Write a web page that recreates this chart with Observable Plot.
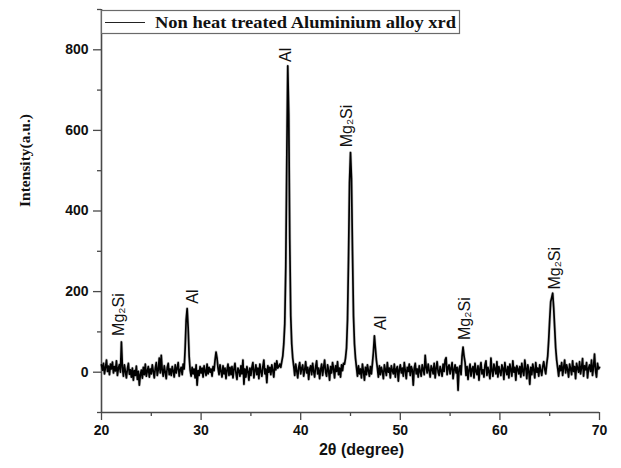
<!DOCTYPE html>
<html>
<head>
<meta charset="utf-8">
<script src="https://cdn.jsdelivr.net/npm/d3@7"></script>
<script src="https://cdn.jsdelivr.net/npm/@observablehq/plot@0.6"></script>
<style>
  html, body { margin: 0; padding: 0; background: #fff; }
  #chart svg { display: block; }
</style>
</head>
<body>
<div id="chart"></div>
<script>
// XRD scan: 2θ from 20° to 70° in 0.1° steps
const twoThetaStart = 20;
const twoThetaStep = 0.1;
const intensity = [
  18, 5, 22, -4, 12, 30, 2, 15, -6, 20,
  8, 25, -2, 14, 3, 28, -8, 10, 19, 0,
  75, 12, -10, 18, 2, -14, 8, 22, -5, 6,
  -12, 10, -20, 4, -8, 15, -18, 2, -32, -6,
  5, -15, 12, -6, 20, -10, 3, 14, -12, 8,
  -4, 18, 2, -14, 10, 24, -8, 6, 35, -2,
  42, 4, -10, 16, 0, -16, 12, 22, -6, 8,
  -8, 14, 3, -12, 18, -2, 10, 24, -10, 6,
  12, -6, 20, 8, 60, 130, 158, 110, 40, 5,
  -10, 12, -4, 8, -14, 18, -32, 4, -8, 14,
  -2, 10, -12, 16, 2, -8, 20, -4, 12, 0,
  8, -10, 14, 4, 30, 50, 35, 10, -6, 18,
  2, -12, 16, -4, 10, -16, 6, 20, -8, 12,
  -6, 14, -14, 8, 22, -2, -18, 10, 4, -10,
  16, -4, 30, -30, 8, -12, 14, 2, -20, 10,
  -8, 12, 24, -14, 4, 18, -6, 10, -16, 20,
  2, -10, 14, 30, -4, 8, -26, 16, 0, 12,
  -6, 18, 4, -12, 22, 6, 28, 10, 14, 20,
  12, 26, 40, 70, 120, 260, 520, 760, 640, 330,
  140, 70, 35, 15, -8, 20, 4, -14, 12, 24,
  -4, 10, 18, -10, 6, 26, -2, 12, -18, 8,
  16, -6, 22, 2, -12, 14, 28, -4, 10, -16,
  6, 20, -8, 12, 30, 0, -10, 18, 4, -20,
  14, -2, 24, 8, -14, 16, 2, 26, -6, 10,
  -12, 18, 4, 22, 20, 35, 60, 130, 280, 470,
  545, 480, 300, 140, 70, 35, 12, -10, 16, -4,
  8, -14, 20, 2, -20, 12, -6, 18, 4, -10,
  14, -4, 22, 50, 90, 60, 30, 10, -12, 16,
  -6, 12, 2, -16, 18, 6, -8, 24, 0, 10,
  -14, 16, 4, -4, 20, -12, 8, 14, -22, 6,
  18, -2, 10, -10, 24, 4, -16, 12, 2, 20,
  -8, 14, 6, -32, 10, 22, -4, 8, -12, 16,
  2, -10, 18, 6, -6, 42, 12, -2, 20, 4,
  -12, 16, 8, -4, 22, -14, 10, 26, 0, -8,
  14, 4, -10, 20, 2, 30, 36, -6, 12, 18,
  -4, 10, 24, -16, 6, 18, -2, 12, -45, 8,
  16, -6, 40, 62, 40, 25, -8, 14, -18, 6,
  20, -10, 8, 14, -14, 22, 2, -6, 16, -20,
  10, 24, -4, 6, -12, 18, 28, -8, 12, 0,
  -16, 35, 4, -10, 20, 8, -4, 26, -12, 14,
  2, -8, 18, 10, -18, 24, 4, -6, 14, -14,
  20, 6, -10, 28, 0, 12, -20, 16, 8, -4,
  14, -12, 22, 2, -8, 30, 10, -16, 18, 4,
  -30, 12, -6, 20, 6, -14, 24, 0, 10, -10,
  18, 4, -8, 14, 26, 8, -4, 20, 40, 80,
  130, 175, 185, 196, 160, 110, 60, 30, 10, -10,
  16, 4, 24, -8, 12, 30, -2, 18, 6, -12,
  20, 8, -6, 28, 2, 14, -16, 22, 10, 0,
  26, -4, 12, 34, -10, 16, 6, 24, -14, 10,
  18, 2, 30, -8, 14, 45, 4, -12, 22, 8,
  12
];

// Phase identification labels
const peakPhase = ["Mg\u2082Si", "Al", "Al", "Mg\u2082Si", "Al", "Mg\u2082Si", "Mg\u2082Si"];
const peakTheta = [21.7, 29.2, 38.55, 44.6, 48.0, 56.5, 65.5];
const peakLabelIntensity = [90, 170, 770, 558, 105, 80, 205];

// Axis ticks
const xTicks = [20, 30, 40, 50, 60, 70];
const xMinorTicks = [25, 35, 45, 55, 65];
const yTicks = [0, 200, 400, 600, 800];
const yMinorTicks = [-100, 100, 300, 500, 700, 900];

const legendText = "Non heat treated Aluminium alloy xrd";
const xTitle = "2\u03B8 (degree)";
const yTitle = "Intensity(a.u.)";

const scan = intensity.map((v, i) => ({
  theta: +(twoThetaStart + i * twoThetaStep).toFixed(2),
  counts: v
}));
const labels = peakPhase.map((p, i) => ({phase: p, theta: peakTheta[i], y: peakLabelIntensity[i]}));

const axisColor = "#4a4a4a";
const sans = "'Liberation Sans', Arial, sans-serif";
const serif = "'Liberation Serif', 'Times New Roman', serif";

const plot = Plot.plot({
  width: 621,
  height: 468,
  marginLeft: 101,
  marginRight: 22,
  marginTop: 9,
  marginBottom: 56,
  style: {fontFamily: sans, background: "#fff", overflow: "visible"},
  x: {domain: [20, 70]},
  y: {domain: [-100, 900]},
  marks: [
    Plot.axisX({ticks: xTicks, tickSize: 8, tickPadding: 5, fontSize: 14, fontWeight: "bold", stroke: axisColor, strokeWidth: 1.3, fill: "#111", label: null}),
    Plot.axisX({ticks: xMinorTicks, tickSize: 4, text: null, stroke: axisColor, strokeWidth: 1.3, label: null}),
    Plot.axisY({ticks: yTicks, tickSize: 8, tickPadding: 5, fontSize: 14, fontWeight: "bold", stroke: axisColor, strokeWidth: 1.3, fill: "#111", label: null}),
    Plot.axisY({ticks: yMinorTicks, tickSize: 4, text: null, stroke: axisColor, strokeWidth: 1.3, label: null}),
    Plot.ruleX([20], {y1: -100, y2: 900, stroke: axisColor, strokeWidth: 1.6}),
    Plot.ruleY([-100], {x1: 20, x2: 70, stroke: axisColor, strokeWidth: 1.6}),
    Plot.line(scan, {x: "theta", y: "counts", stroke: "#808080", strokeWidth: 3, strokeOpacity: 0.45}),
    Plot.line(scan, {x: "theta", y: "counts", stroke: "#000", strokeWidth: 1.7}),
    Plot.text(labels, {x: "theta", y: "y", text: "phase", rotate: -90, textAnchor: "start", fontSize: 16, fill: "#111", fontFamily: sans}),
    Plot.text([xTitle], {frameAnchor: "bottom", dx: 11, dy: 42, fontSize: 16, fontWeight: "bold", fill: "#111", fontFamily: sans}),
    Plot.text([yTitle], {frameAnchor: "left", rotate: -90, dx: -76, dy: -4, fontSize: 15.5, fontWeight: "bold", fill: "#111", fontFamily: serif})
  ]
});

// Legend box (top-left, inside the plot area)
const svg = d3.select(plot);
const lg = svg.append("g").attr("class", "legend").attr("text-anchor", "start");
lg.append("rect")
  .attr("x", 101.5).attr("y", 10.5).attr("width", 358).attr("height", 23)
  .attr("fill", "#fff").attr("stroke", "#6a6a6a").attr("stroke-width", 1.2);
lg.append("line")
  .attr("x1", 105).attr("x2", 145).attr("y1", 22.5).attr("y2", 22.5)
  .attr("stroke", "#222").attr("stroke-width", 1);
lg.append("text")
  .attr("x", 155).attr("y", 27.5)
  .attr("text-anchor", "start")
  .attr("font-family", serif).attr("font-weight", "bold").attr("font-size", 17.5)
  .attr("textLength", 301).attr("lengthAdjust", "spacingAndGlyphs")
  .attr("fill", "#111")
  .text(legendText);

document.getElementById("chart").appendChild(plot);
</script>
</body>
</html>
